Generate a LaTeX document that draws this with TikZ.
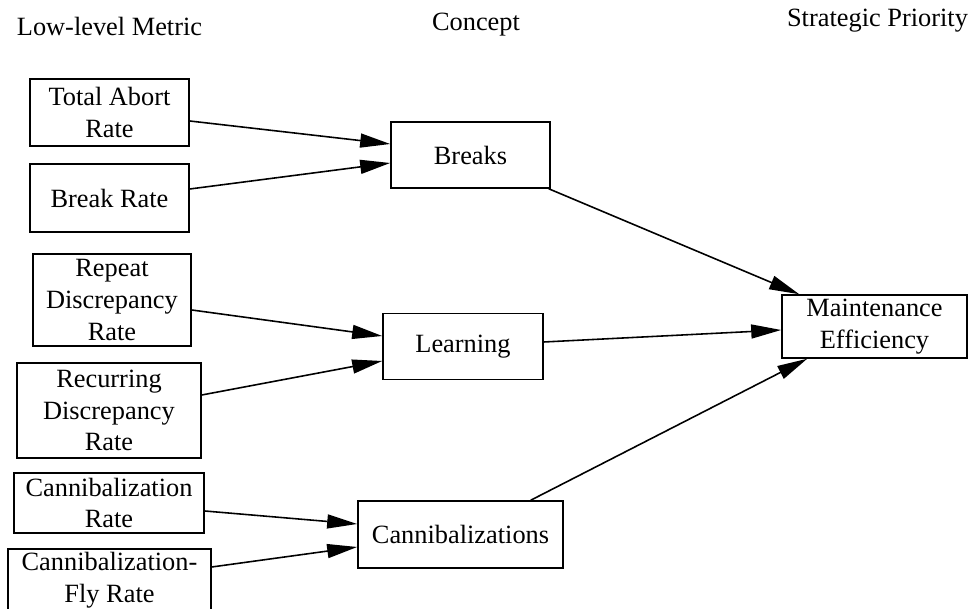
\documentclass[tikz,border=0pt]{standalone}
\usepackage{fontspec}
\setmainfont{Liberation Serif}
\usetikzlibrary{arrows.meta,calc}
\tikzset{
  box/.style={draw, line width=0.9pt, align=center},
  arr/.style={-{Triangle[length=0.6cm,width=0.28cm]}, line width=0.9pt}
}
\begin{document}
\begin{tikzpicture}[scale=0.2]
\tikzstyle{every node}+=[inner sep=0pt, font=\fontsize{15}{18}\selectfont]
\useasboundingbox (0,0) rectangle (97.5,-60.9);
% column titles
\node (hmet) at (10.95,-3.6) [anchor=base] {Low-level Metric};
\node (hcon) at (47.6,-3.1) [anchor=base] {Concept};
\node (hpri) at (87.75,-2.7) [anchor=base] {Strategic Priority};
% low-level metrics
\node (ta) at (10.95,-11.25) [box, minimum width=3.18cm, minimum height=1.34cm] {Total Abort\\Rate};
\node (br) at (10.95,-19.8) [box, minimum width=3.18cm, minimum height=1.36cm] {Break Rate};
\node (rd) at (11.2,-30) [box, minimum width=3.16cm, minimum height=1.84cm] {Repeat\\Discrepancy\\Rate};
\node (cd) at (10.9,-41.05) [box, minimum width=3.68cm, minimum height=1.9cm] {Recurring\\Discrepancy\\Rate};
\node (cr) at (10.9,-50.3) [box, minimum width=3.8cm, minimum height=1.2cm] {Cannibalization\\Rate};
\node (cf) at (10.95,-58) [box, minimum width=4.06cm, minimum height=1.24cm] {Cannibalization-\\Fly Rate};
% concepts
\node (brk) at (47.05,-15.5) [box, minimum width=3.18cm, minimum height=1.32cm] {Breaks};
\node (lrn) at (46.3,-34.65) [box, minimum width=3.2cm, minimum height=1.32cm] {Learning};
\node (can) at (46.05,-53.45) [box, minimum width=4.1cm, minimum height=1.34cm] {Cannibalizations};
% strategic priority
\node (me) at (87.45,-32.65) [box, minimum width=3.7cm, minimum height=1.26cm] {Maintenance\\Efficiency};
% metric -> concept
\draw [arr] ($(ta.east)+(0,-0.85)$) -- ($(brk.west)+(0,1.1)$);
\draw [arr] ($(br.east)+(0,0.9)$) -- ($(brk.west)+(0,-0.8)$);
\draw [arr] ($(rd.east)+(0,-1)$) -- ($(lrn.west)+(0,1.05)$);
\draw [arr] ($(cd.east)+(0,1.55)$) -- ($(lrn.west)+(0,-1.45)$);
\draw [arr] ($(cr.east)+(0,-0.8)$) -- ($(can.west)+(0,1.05)$);
\draw [arr] ($(cf.east)+(0,1.3)$) -- ($(can.west)+(0,-1.25)$);
% concept -> priority
\draw [arr] ($(brk.south east)+(-0.2,0)$) -- ($(me.north west)+(1.8,0)$);
\draw [arr] ($(lrn.east)+(0,0.45)$) -- ($(me.west)+(0,-0.35)$);
\draw [arr] ($(can.north east)+(-3.3,0)$) -- ($(me.south west)+(2.6,0)$);
\end{tikzpicture}
\end{document}
